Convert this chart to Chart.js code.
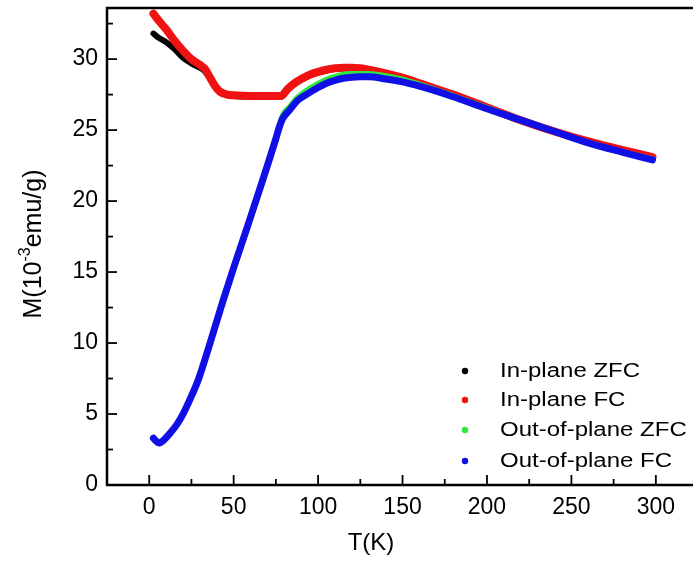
<!DOCTYPE html>
<html>
<head>
<meta charset="utf-8">
<script src="https://cdn.jsdelivr.net/npm/chart.js@4/dist/chart.umd.min.js"></script>
<style>
  html, body { margin: 0; padding: 0; background: #fff; }
  #wrap { width: 693px; height: 565px; position: relative; }
</style>
</head>
<body>
<div id="wrap"><canvas id="c" width="693" height="565"></canvas></div>
<script>
// M(T) curves, temperature in K, magnetization in 10^-3 emu/g
const inPlaneZfcT = [2.5,5,10,15,20,25,28,32,36,40,45,50,60,70,78,82,86,90,95,100,105,110,115,120,125,130,140,150,160,170,180,200,220,240,260,280,298];
const inPlaneZfcM = [31.8,31.55,31.2,30.7,30.1,29.7,29.5,29.25,28.65,27.9,27.5,27.4,27.35,27.35,27.35,27.85,28.25,28.55,28.85,29.05,29.2,29.3,29.35,29.35,29.3,29.2,28.95,28.65,28.25,27.85,27.45,26.6,25.7,24.9,24.2,23.6,23.05];

const inPlaneFcT = [2.5,5,10,15,20,25,30,33,36,39,42,46,50,60,70,78,82,86,90,95,100,105,110,115,120,125,130,140,150,160,170,180,200,220,240,260,280,298];
const inPlaneFcM = [33.2,32.8,32.1,31.3,30.6,30.0,29.6,29.3,28.7,28.1,27.7,27.5,27.45,27.4,27.4,27.4,27.9,28.3,28.6,28.9,29.1,29.25,29.35,29.4,29.4,29.35,29.25,29.0,28.7,28.3,27.9,27.5,26.6,25.7,24.9,24.2,23.6,23.1];

const outPlaneZfcT = [2.5,4,6,8,12,16,20,24,29,35,43.5,50,57.6,67,75,77,79,83,88,93,100,105,110,115,120,125,130,140,150,160,170,180,200,220,240,260,280,298];
const outPlaneZfcM = [3.3,3.1,2.95,3.1,3.6,4.2,5.0,6.0,7.4,9.6,12.9,15.3,18.0,21.4,24.4,25.2,26.0,26.6,27.3,27.75,28.25,28.55,28.75,28.9,28.95,28.95,28.95,28.8,28.55,28.2,27.8,27.4,26.55,25.7,24.9,24.1,23.45,22.95];

const outPlaneFcT = [2.5,4,6,8,12,16,20,24,29,35,43.5,50,57.6,67,75,77,79,83,88,93,100,105,110,115,120,125,130,140,150,160,170,180,200,220,240,260,280,298];
const outPlaneFcM = [3.3,3.1,2.95,3.1,3.6,4.2,5.0,6.0,7.4,9.6,12.9,15.3,18.0,21.4,24.4,25.2,25.8,26.4,27.1,27.5,28.0,28.3,28.5,28.65,28.72,28.75,28.75,28.6,28.4,28.1,27.75,27.35,26.5,25.7,24.9,24.1,23.45,22.9];

const seriesNames = ['In-plane ZFC', 'In-plane FC', 'Out-of-plane ZFC', 'Out-of-plane FC'];
const seriesColors = ['#000000', '#f01212', '#2ee83a', '#1010e6'];

const xTitle = 'T(K)';
const xMin = -25, xMax = 322, xStep = 25, xLabelEvery = 50;
const yMin = 0, yMax = 33.6, yStep = 2.5, yLabelEvery = 5;

const FONT = '"Liberation Sans", Arial, sans-serif';

function pts(t, m) { return t.map((v, i) => ({ x: v, y: m[i] })); }

const widths = [6, 8, 6, 7];
const orders = [3, 2, 1, 0];
const sources = [[inPlaneZfcT, inPlaneZfcM], [inPlaneFcT, inPlaneFcM], [outPlaneZfcT, outPlaneZfcM], [outPlaneFcT, outPlaneFcM]];

const datasets = sources.map((s, i) => ({
  label: seriesNames[i],
  data: pts(s[0], s[1]),
  showLine: true,
  borderColor: seriesColors[i],
  backgroundColor: seriesColors[i],
  borderWidth: widths[i],
  borderCapStyle: 'round',
  borderJoinStyle: 'round',
  cubicInterpolationMode: 'monotone',
  pointRadius: 0,
  order: orders[i]
}));

function isMult(v, step) { return Math.abs(v / step - Math.round(v / step)) < 1e-6; }

// regular ticks inside the axis range
function stepTicks(step) {
  return scale => {
    const out = [];
    for (let v = Math.ceil(scale.min / step) * step; v <= scale.max + 1e-9; v += step) {
      out.push({ value: Math.round(v * 1000) / 1000 });
    }
    scale.ticks = out.filter(t => (t.value > scale.min && t.value < scale.max) || (t.value === 0 && scale.min === 0));
  };
}

// fixed scale box sizes, no label overhang padding
function fixBox(prop, size) {
  return s => {
    s[prop] = size;
    s.paddingTop = 0; s.paddingBottom = 0; s.paddingLeft = 0; s.paddingRight = 0;
  };
}

// frame, inward ticks, axis titles and legend
const decor = {
  id: 'decor',
  afterDraw(chart) {
    const ctx = chart.ctx;
    const a = chart.chartArea;
    const xs = chart.scales.x, ys = chart.scales.y;
    ctx.save();
    ctx.strokeStyle = '#000';
    ctx.lineWidth = 2.5;
    ctx.strokeRect(a.left, a.top, a.right - a.left + 4, a.bottom - a.top);

    ctx.lineWidth = 1.8;
    xs.ticks.forEach(t => {
      const v = t.value;
      if (v <= xMin || v >= xMax) return;
      const len = isMult(v, xLabelEvery) ? 10 : 6;
      const px = xs.getPixelForValue(v);
      ctx.beginPath(); ctx.moveTo(px, a.bottom); ctx.lineTo(px, a.bottom - len); ctx.stroke();
    });
    ys.ticks.forEach(t => {
      const v = t.value;
      if (v <= yMin || v >= yMax) return;
      const len = isMult(v, yLabelEvery) ? 10 : 6;
      const py = ys.getPixelForValue(v);
      ctx.beginPath(); ctx.moveTo(a.left, py); ctx.lineTo(a.left + len, py); ctx.stroke();
    });

    // x title
    ctx.fillStyle = '#000';
    ctx.font = '24px ' + FONT;
    ctx.textAlign = 'center';
    ctx.textBaseline = 'middle';
    ctx.fillText(xTitle, 371, 543);

    // y title with superscript exponent
    ctx.save();
    ctx.translate(32, 244);
    ctx.rotate(-Math.PI / 2);
    const big = '25px ' + FONT, small = '16px ' + FONT;
    const p1 = 'M(10', p2 = '-3', p3 = 'emu/g)';
    ctx.font = big; const w1 = ctx.measureText(p1).width, w3 = ctx.measureText(p3).width;
    ctx.font = small; const w2 = ctx.measureText(p2).width;
    let x0 = -(w1 + w2 + w3) / 2;
    ctx.textAlign = 'left';
    ctx.textBaseline = 'alphabetic';
    ctx.font = big; ctx.fillText(p1, x0, 9); x0 += w1;
    ctx.font = small; ctx.fillText(p2, x0, -2); x0 += w2;
    ctx.font = big; ctx.fillText(p3, x0, 9);
    ctx.restore();

    // legend (text slightly widened)
    const rowsY = [371, 400, 430, 461];
    ctx.font = '20px ' + FONT;
    ctx.textAlign = 'left';
    ctx.textBaseline = 'middle';
    chart.data.datasets.forEach((d, i) => {
      ctx.fillStyle = d.borderColor;
      ctx.beginPath(); ctx.arc(465, rowsY[i], 3.2, 0, Math.PI * 2); ctx.fill();
      ctx.fillStyle = '#000';
      ctx.save();
      ctx.translate(500, rowsY[i]);
      ctx.scale(1.2, 1);
      ctx.fillText(d.label, 0, 0);
      ctx.restore();
    });
    ctx.restore();
  }
};

new Chart(document.getElementById('c'), {
  type: 'scatter',
  data: { datasets },
  options: {
    responsive: false,
    animation: false,
    layout: { padding: { top: 8, right: 0, left: 0, bottom: 0 } },
    plugins: { legend: { display: false }, tooltip: { enabled: false } },
    scales: {
      x: {
        type: 'linear', min: xMin, max: xMax,
        grid: { display: false, drawTicks: false },
        border: { display: false },
        afterBuildTicks: stepTicks(xStep),
        ticks: {
          autoSkip: false, maxRotation: 0, padding: 9,
          color: '#000', font: { family: FONT, size: 23 },
          callback: v => isMult(v, xLabelEvery) ? String(v) : ''
        },
        afterFit: fixBox('height', 80)
      },
      y: {
        type: 'linear', min: yMin, max: yMax,
        grid: { display: false, drawTicks: false },
        border: { display: false },
        afterBuildTicks: stepTicks(yStep),
        ticks: {
          autoSkip: false, padding: 9,
          color: '#000', font: { family: FONT, size: 23 },
          callback: v => isMult(v, yLabelEvery) ? String(v) : ''
        },
        afterFit: fixBox('width', 107)
      }
    }
  },
  plugins: [decor]
});
</script>
</body>
</html>
